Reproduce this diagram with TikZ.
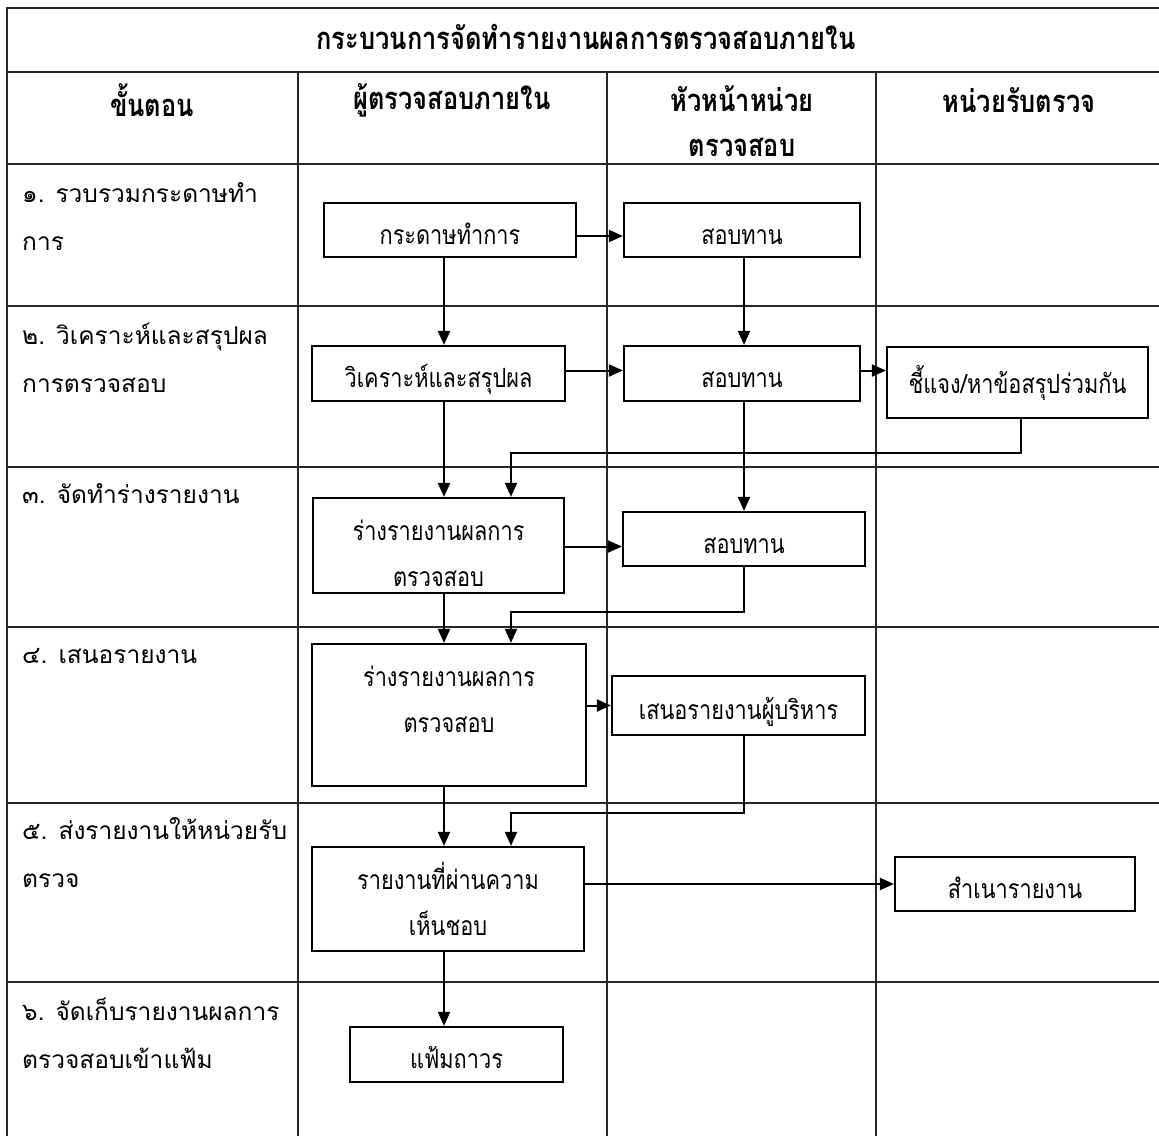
\documentclass[tikz,border=0pt]{standalone}
\usepackage{fontspec}
\newfontfamily\thai[Script=Thai, FakeStretch=0.82]{Loma}
\newfontfamily\thaiwide[Script=Thai]{Loma}
\usetikzlibrary{arrows.meta}
\begin{document}
\begin{tikzpicture}[x=1pt,y=-1pt,
  grid/.style={line width=1.5pt, draw=black!85},
  box/.style={draw, line width=2.2pt, inner sep=0pt, align=center,
    font=\thai\fontsize{26.5}{46}\selectfont},
  oneline/.style={text height=28pt, text depth=0pt},
  flow/.style={line width=2pt, -{Triangle[length=14pt,width=12pt]}},
  stepnote/.style={anchor=west, inner sep=0pt, align=left,
    font=\thaiwide\fontsize{24.5}{48}\selectfont},
  head/.style={inner sep=0pt, align=center,
    font=\thai\bfseries\fontsize{31}{45}\selectfont}]
\useasboundingbox (0,0) rectangle (1159,1136);
\fill[white] (0,0) rectangle (1159,1136);
% table
\draw[grid] (7,1136) -- (7,8) -- (1159,8);
\foreach \yy in {72,164,306,467,627,803,982}
  \draw[grid] (7,\yy) -- (1159,\yy);
\foreach \xx in {298,607,876}
  \draw[grid] (\xx,72) -- (\xx,1136);
% title and headers
\node[head] (title) at (586,37) {กระบวนการจัดทำรายงานผลการตรวจสอบภายใน};
\node[head] (h1) at (152,100) {ขั้นตอน};
\node[head] (h2) at (452,100) {ผู้ตรวจสอบภายใน};
\node[head] (h3) at (742,121) {หัวหน้าหน่วย\\ตรวจสอบ};
\node[head] (h4) at (1019,100) {หน่วยรับตรวจ};
% steps
\node[stepnote] (s1) at (22,217) {๑. รวบรวมกระดาษทำ\\การ};
\node[stepnote] (s2) at (22,358) {๒. วิเคราะห์และสรุปผล\\การตรวจสอบ};
\node[stepnote] (s3) at (22,494) {๓. จัดทำร่างรายงาน};
\node[stepnote] (s4) at (22,656) {๔. เสนอรายงาน};
\node[stepnote] (s5) at (22,853) {๕. ส่งรายงานให้หน่วยรับ\\ตรวจ};
\node[stepnote] (s6) at (22,1033) {๖. จัดเก็บรายงานผลการ\\ตรวจสอบเข้าแฟ้ม};
% boxes
\node[box, oneline, minimum width=252pt, minimum height=54pt] (b1) at (450,230) {กระดาษทำการ};
\node[box, oneline, minimum width=236pt, minimum height=54pt] (b2) at (742,230) {สอบทาน};
\node[box, oneline, minimum width=253pt, minimum height=55pt] (b3) at (438.5,373.5) {วิเคราะห์และสรุปผล};
\node[box, oneline, minimum width=236pt, minimum height=55pt] (b4) at (742,373.5) {สอบทาน};
\node[box, minimum width=261pt, minimum height=71pt] (b5) at (1017.5,382.5) {ชี้แจง/หาข้อสรุปร่วมกัน};
\node[box, minimum width=251pt, minimum height=95pt, text height=82pt, text depth=0pt] (b6) at (438.5,545.5) {ร่างรายงานผลการ\\ตรวจสอบ};
\node[box, oneline, minimum width=242pt, minimum height=54pt] (b7) at (744,539) {สอบทาน};
\node[box, minimum width=274pt, minimum height=142pt, text height=78pt, text depth=44pt] (b8) at (449,715) {ร่างรายงานผลการ\\ตรวจสอบ};
\node[box, oneline, minimum width=253pt, minimum height=59pt] (b9) at (738.5,705.5) {เสนอรายงานผู้บริหาร};
\node[box, minimum width=272pt, minimum height=104pt, text height=73pt, text depth=0pt] (b10) at (448,899) {รายงานที่ผ่านความ\\เห็นชอบ};
\node[box, oneline, minimum width=240pt, minimum height=54pt] (b11) at (1015,884) {สำเนารายงาน};
\node[box, oneline, minimum width=213pt, minimum height=55pt] (b12) at (456.5,1054.5) {แฟ้มถาวร};
% connector guides
\coordinate (xL) at (444,0);
\coordinate (xR) at (511,0);
\coordinate (xM) at (744,0);
\coordinate (fb1) at (1021,453);
\coordinate (fb2) at (744,612);
\coordinate (fb3) at (744,813);
% connectors
\draw[flow] ([yshift=-6pt]b1.east) -- ([yshift=-6pt]b2.west);
\draw[flow] (b1.south -| xL) -- (b3.north -| xL);
\draw[flow] (b2.south -| xM) -- (b4.north -| xM);
\draw[flow] ([yshift=3pt]b3.east) -- ([yshift=3pt]b4.west);
\draw[flow] ([yshift=3pt]b4.east) -- ([yshift=3pt]b4.east -| b5.west);
\draw[flow] (b5.south -| fb1) -- (fb1) -| (b6.north -| xR);
\draw[flow] (b3.south -| xL) -- (b6.north -| xL);
\draw[flow] (b4.south -| xM) -- (b7.north -| xM);
\draw[flow] ([yshift=-1pt]b6.east) -- ([yshift=-1pt]b6.east -| b7.west);
\draw[flow] (b7.south -| xM) -- (fb2) -| (b8.north -| xR);
\draw[flow] (b6.south -| xL) -- (b8.north -| xL);
\draw[flow] (b8.east |- b9.west) -- (b9.west);
\draw[flow] (b9.south -| xM) -- (fb3) -| (b10.north -| xR);
\draw[flow] (b8.south -| xL) -- (b10.north -| xL);
\draw[flow] (b10.east |- b11.west) -- (b11.west);
\draw[flow] (b10.south -| xL) -- (b12.north -| xL);
\end{tikzpicture}
\end{document}
